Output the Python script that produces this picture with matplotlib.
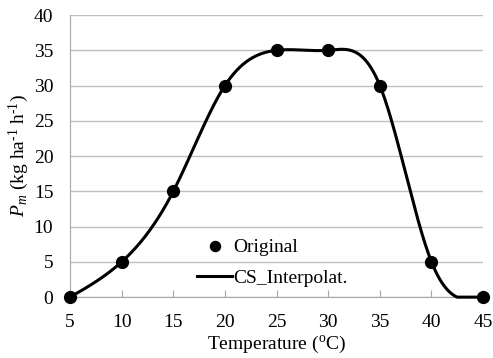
import numpy as np
import matplotlib
matplotlib.use("Agg")
import matplotlib.pyplot as plt

plt.rcParams['font.family'] = ['Liberation Serif', 'DejaVu Serif']
plt.rcParams['mathtext.fontset'] = 'custom'
plt.rcParams['mathtext.rm'] = 'Liberation Serif'
plt.rcParams['mathtext.it'] = 'Liberation Serif:italic'

# data points
temp = np.array([5, 10, 15, 20, 25, 30, 35, 40, 45], dtype=float)
pm = np.array([0, 5, 15, 30, 35, 35, 30, 5, 0], dtype=float)


# natural cubic spline through the original points
def natural_spline(x, y, xs):
    n = len(x)
    h = np.diff(x)
    A = np.zeros((n, n))
    b = np.zeros(n)
    A[0, 0] = 1
    A[-1, -1] = 1
    for i in range(1, n - 1):
        A[i, i - 1] = h[i - 1]
        A[i, i] = 2 * (h[i - 1] + h[i])
        A[i, i + 1] = h[i]
        b[i] = 6 * ((y[i + 1] - y[i]) / h[i] - (y[i] - y[i - 1]) / h[i - 1])
    M = np.linalg.solve(A, b)
    idx = np.clip(np.searchsorted(x, xs) - 1, 0, n - 2)
    x0, x1 = x[idx], x[idx + 1]
    hh = x1 - x0
    t0, t1 = x1 - xs, xs - x0
    return (M[idx] * t0**3 + M[idx + 1] * t1**3) / (6 * hh) \
        + (y[idx] / hh - M[idx] * hh / 6) * t0 \
        + (y[idx + 1] / hh - M[idx + 1] * hh / 6) * t1


xs = np.linspace(5, 45, 400)
# the chart shows the part below zero flattened on the axis
ys = np.clip(natural_spline(temp, pm, xs), 0, None)

fig = plt.figure(figsize=(4.93, 3.58), dpi=100)
ax = fig.add_axes([0.142, 0.170, 0.838, 0.788])

ax.plot(xs, ys, color='black', lw=2.2, label='CS_Interpolat.', zorder=3,
        clip_on=False)
ax.plot(temp, pm, 'o', color='black', ms=8.5, label='Original', zorder=4,
        clip_on=False)

ax.set_xlim(5, 45)
ax.set_ylim(0, 40)
ax.set_xticks(np.arange(5, 46, 5))
ax.set_yticks(np.arange(0, 41, 5))
ax.grid(axis='y', color='#bfbfbf', lw=1)
ax.set_axisbelow(True)
for s in ['top', 'right']:
    ax.spines[s].set_visible(False)
ax.spines['left'].set_color('#a6a6a6')
ax.spines['bottom'].set_color('#a6a6a6')
ax.tick_params(axis='y', length=0, labelsize=14, pad=12)
ax.tick_params(axis='x', direction='in', length=5, color='#a6a6a6',
               labelsize=14, pad=12)

ax.set_xlabel('Temperature ($^{\\rm o}$C)', fontsize=14, labelpad=2)
ax.set_ylabel('$P_m$ (kg ha$^{\\text{-1}}$ h$^{\\text{-1}}$)', fontsize=14,
              labelpad=2)

h, l = ax.get_legend_handles_labels()
ax.legend([h[1], h[0]], [l[1], l[0]], loc='lower center',
          bbox_to_anchor=(0.49, -0.025), frameon=False, fontsize=14,
          handlelength=1.8, handletextpad=0.05, labelspacing=0.65,
          markerscale=0.85)

fig.savefig('out.png', dpi=100)
